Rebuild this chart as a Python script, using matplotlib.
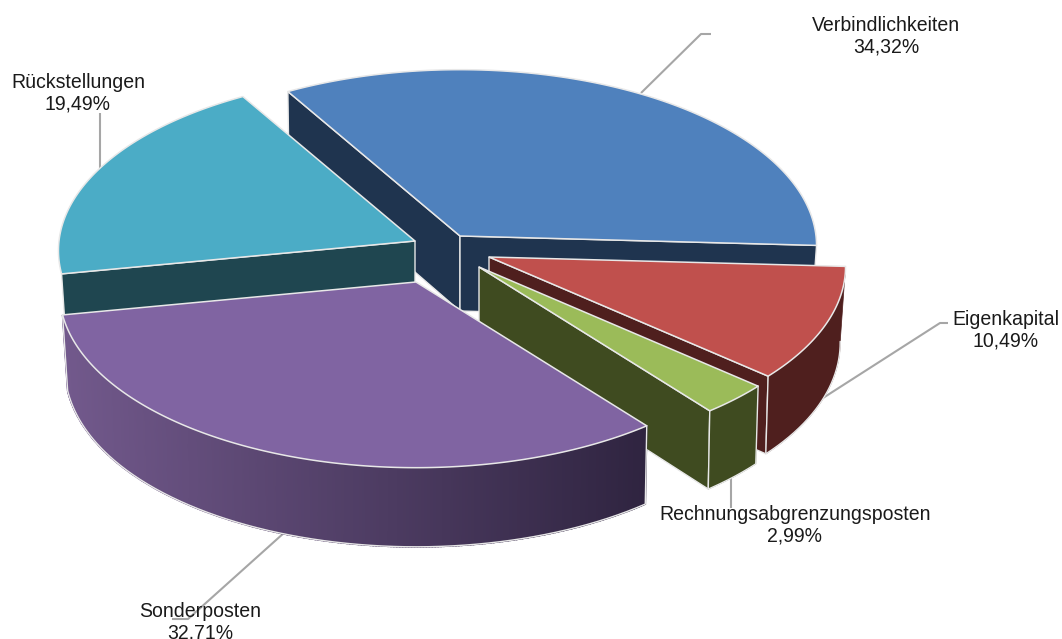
import numpy as np
import matplotlib
matplotlib.use("Agg")
import matplotlib.pyplot as plt
from matplotlib.patches import Polygon
from matplotlib.colors import to_rgb

categories = ["Verbindlichkeiten", "Eigenkapital", "Rechnungsabgrenzungsposten", "Sonderposten", "Rückstellungen"]
values = [34.32, 10.49, 2.99, 32.71, 19.49]

top_colors = ["#4f81bd", "#c0504d", "#9bbb59", "#8064a2", "#4bacc6"]
side_colors = ["#1f344f", "#4f1f1e", "#3f4b20", "#2f2440", "#1f4650"]
side_left = ["#1f344f", "#4f1f1e", "#3f4b20", "#72598c", "#1f4650"]

# layout of the exploded pie, in pixels
apex_x = [460, 489, 479, 416, 415]
apex_y = [236, 257, 267, 282, 241]
draw_order = [0, 4, 1, 2, 3]
start_angle = -30.5
RX, RY, DEPTH, PERSP = 356, 176, 75, 0.055
MIN_WALL_DEG = 5
EDGE = "#e8e8e8"

label_x = [886, 1006, 795, 200, 78]
label_y = [36, 330, 525, 622, 93]
leader_x = [[641, 701, 711], [823, 940, 948], [731, 731], [285, 188, 172], [100, 100]]
leader_y = [[93, 34, 34], [398, 323, 323], [476, 508], [532, 619, 619], [170, 113]]

fig = plt.figure(figsize=(10.62, 6.39), dpi=100)
ax = fig.add_axes([0, 0, 1, 1])
ax.set_xlim(0, 1062)
ax.set_ylim(639, 0)
ax.axis("off")


def rim(ax0, ay0, t_deg, lower=False):
    t = np.radians(np.asarray(t_deg, dtype=float))
    p = 1 - PERSP * np.cos(t)
    x = ax0 + RX * p * np.sin(t)
    y = ay0 - RY * p * np.cos(t)
    if lower:
        y = y + DEPTH * p
        x = ax0 + (x - ax0) * (0.995 - 0.010 * np.sin(t) ** 4)
    return x, y


bounds = start_angle + np.concatenate([[0], np.cumsum(values)]) * 3.6

for lx, ly in zip(leader_x, leader_y):
    ax.plot(lx, ly, color="#a6a6a6", lw=1.5, zorder=1, solid_capstyle="butt")

z = 2
for i in draw_order:
    a0, a1 = bounds[i], bounds[i + 1]
    ax0, ay0 = apex_x[i], apex_y[i]
    # cut faces that look towards the viewer
    faces = []
    if np.sin(np.radians(a0)) < 0:
        faces.append(a0)
    if np.sin(np.radians(a1)) > 0:
        faces.append(a1)
    for a in faces:
        xr, yr = rim(ax0, ay0, a)
        xb, yb = rim(ax0, ay0, a, lower=True)
        quad = [(ax0, ay0), (xr, yr), (xb, yb), (ax0, ay0 + DEPTH)]
        ax.add_patch(Polygon(quad, closed=True, fc=side_colors[i], ec=EDGE, lw=1.0, zorder=z))
        z += 1
    # outer wall, only the part facing the viewer
    lo, hi = max(a0, 90), min(a1, 270)
    if hi - lo > MIN_WALL_DEG and i != 4:
        ts = np.linspace(lo, hi, 260)
        xt, yt = rim(ax0, ay0, ts)
        xb, yb = rim(ax0, ay0, ts, lower=True)
        outline = np.column_stack([np.r_[xt, xb[::-1]], np.r_[yt, yb[::-1]]])
        c_right, c_left = np.array(to_rgb(side_colors[i])), np.array(to_rgb(side_left[i]))
        if side_colors[i] == side_left[i]:
            ax.add_patch(Polygon(outline, closed=True, fc=c_right, ec=c_right, lw=0.5, zorder=z))
        else:
            xmin, xmax = xt.min(), xt.max()
            ax.add_patch(Polygon(outline, closed=True, fc=c_left, ec="none", zorder=z))
            z += 1
            for k in range(len(ts) - 1):
                f = (xt[k] - xmin) / max(xmax - xmin, 1)
                col = c_left * (1 - f) + c_right * f
                quad = [(xt[k], yt[k]), (xt[k + 1], yt[k + 1]), (xb[k + 1], yb[k + 1]), (xb[k], yb[k])]
                ax.add_patch(Polygon(quad, closed=True, fc=col, ec=col, lw=1.2, zorder=z))
        z += 1
        if lo < 100:  # the wall turns out of sight here: no vertical edge on this end
            ex, ey = np.r_[xb, xt[-1]], np.r_[yb, yt[-1]]
        else:
            ex, ey = np.r_[xt[0], xb, xt[-1]], np.r_[yt[0], yb, yt[-1]]
        ax.plot(ex, ey, color=EDGE, lw=1.0, zorder=z)
        z += 1
    # top face
    ts = np.linspace(a0, a1, 200)
    xt, yt = rim(ax0, ay0, ts)
    pts = np.column_stack([np.r_[ax0, xt], np.r_[ay0, yt]])
    ax.add_patch(Polygon(pts, closed=True, fc=top_colors[i], ec=EDGE, lw=1.1, joinstyle="round", zorder=z))
    z += 1

for name, v, x, y in zip(categories, values, label_x, label_y):
    txt = f"{name}\n{v:.2f}%".replace(".", ",")
    ax.text(x, y, txt, ha="center", va="center", fontsize=14.05, family="Liberation Sans",
            color="#1a1a1a", linespacing=1.17, zorder=z + 1)

fig.savefig("out.png", dpi=100)
